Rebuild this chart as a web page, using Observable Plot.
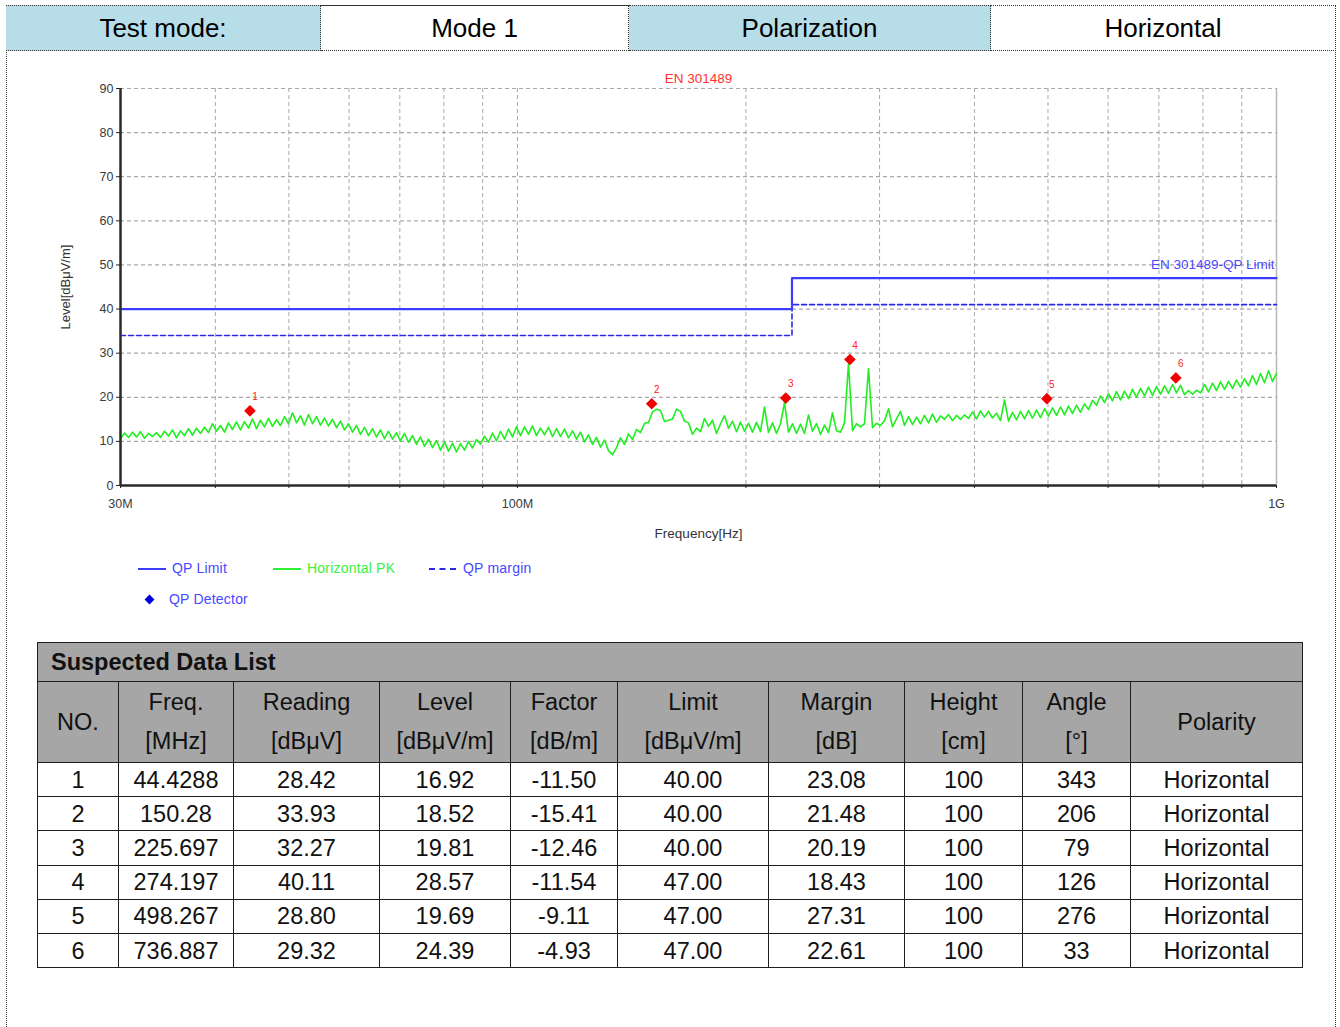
<!DOCTYPE html>
<html>
<head>
<meta charset="utf-8">
<script src="https://cdn.jsdelivr.net/npm/d3@7"></script>
<script src="https://cdn.jsdelivr.net/npm/@observablehq/plot@0.6"></script>
<style>
  html, body { margin: 0; padding: 0; background: #fff; }
  body { font-family: "Liberation Sans", Arial, sans-serif; }
  #page { position: relative; width: 1340px; height: 1027px; overflow: hidden; }
  #frame { position: absolute; left: 6px; top: 5px; width: 1330px; height: 1060px; border: 1px dotted #333; border-bottom: none; box-sizing: border-box; }
  #hdr { position: absolute; left: 6px; top: 5px; height: 46px; display: flex; }
  #hdr div { height: 46px; box-sizing: border-box; border-top: 1px dotted #333; border-bottom: 1px dotted #333; border-right: 1px dotted #333;
             font-size: 26px; line-height: 44px; text-align: center; color: #000; }
  #hdr div.blue { background: #b7dde8; }
  #chart { position: absolute; left: 0; top: 50px; }
  .leg { position: absolute; font-size: 14px; line-height: 16px; letter-spacing: 0.2px; }
  #tbl { position: absolute; left: 37px; top: 642px; border-collapse: collapse; font-size: 23.5px; color: #111; }
  #tbl td { border: 1.5px solid #1e1e1e; text-align: center; padding: 0; }
  #tbl tr.title td { background: #a6a6a6; text-align: left; font-weight: bold; padding-left: 13px; height: 38px; color: #111; }
  #tbl tr.head td { background: #a6a6a6; height: 80px; line-height: 39px; }
  #tbl tr.row td { height: 33.2px; line-height: 30px; }
</style>
</head>
<body>
<div id="page">
  <div id="frame"></div>
  <div id="hdr"></div>
  <div id="chart"></div>
  <div id="legend"></div>
  <table id="tbl"></table>
</div>
<script>
// ---------- header ----------
const headerTexts = ["Test mode:", "Mode 1", "Polarization", "Horizontal"];
const headerBlue = [true, false, true, false];

// ---------- axis ticks ----------
const xGridTicks = [40, 50, 60, 70, 80, 90, 100, 200, 300, 400, 500, 600, 700, 800, 900];
const xAllTicks = [30, 40, 50, 60, 70, 80, 90, 100, 200, 300, 400, 500, 600, 700, 800, 900, 1000];
const xLabelTicks = [30, 100, 1000];
const xTickLabels = ["30M", "100M", "1G"];
const yTicks = [0, 10, 20, 30, 40, 50, 60, 70, 80, 90];

// ---------- limit lines (MHz, dBuV/m) ----------
const limitFreq = [30, 230, 230, 1000];
const limitLevel = [40, 40, 47, 47];
const marginLevel = [34, 34, 41, 41];

// ---------- Horizontal PK sweep 30 MHz .. 1 GHz (dBuV/m) ----------
const traceStartMHz = 30, traceStopMHz = 1000;
const traceLevels = [
  10.6, 11.9, 10.9, 12.1, 11.0, 12.2, 10.7, 11.8, 11.1, 12.0,
  10.9, 12.3, 11.2, 12.6, 10.8, 12.4, 11.3, 12.9, 11.4, 13.0,
  11.8, 13.2, 12.0, 14.0, 12.3, 13.6, 12.1, 14.2, 12.7, 14.4,
  12.6, 14.5, 13.0, 15.1, 12.9, 14.8, 13.3, 15.2, 13.4, 14.9,
  13.6, 15.6, 14.0, 16.5, 14.2, 15.8, 13.7, 16.1, 14.0, 15.6,
  13.7, 15.3, 13.5, 15.0, 13.1, 14.6, 12.6, 14.0, 12.1, 13.6,
  11.6, 13.2, 11.3, 12.9, 11.0, 12.6, 10.6, 12.3, 10.5, 12.0,
  10.1, 11.8, 9.8, 11.3, 9.3, 11.0, 8.9, 10.5, 8.6, 10.2,
  8.0, 9.9, 7.8, 9.6, 7.6, 9.5, 8.0, 10.0, 8.5, 10.4,
  9.4, 11.2, 9.8, 11.9, 10.1, 12.3, 10.5, 12.8, 11.0, 13.3,
  11.3, 13.3, 11.6, 13.5, 11.3, 13.0, 11.5, 13.2, 11.1, 12.9,
  11.1, 12.8, 10.8, 12.4, 10.5, 12.1, 9.9, 11.5, 9.3, 10.9,
  8.7, 10.3, 7.9, 7.0, 8.6, 10.8, 9.3, 11.7, 10.4, 12.7,
  12.0, 14.1, 14.3, 16.7, 17.3, 17.0, 14.5, 14.8, 15.1, 17.3,
  16.8, 14.6, 14.2, 11.6, 13.0, 12.2, 15.2, 13.4, 14.8, 11.8,
  14.0, 15.8, 13.0, 14.6, 12.2, 14.4, 12.3, 14.1, 12.1, 14.3,
  12.2, 17.8, 12.0, 14.2, 11.8, 14.0, 18.8, 12.1, 14.0, 11.8,
  13.9, 11.8, 16.0, 12.3, 14.0, 11.6, 13.7, 12.0, 16.5, 12.4,
  12.1, 14.2, 27.6, 12.4, 14.0, 13.3, 14.0, 26.5, 13.1, 14.1,
  13.6, 14.7, 17.4, 13.3, 15.1, 16.8, 13.6, 15.6, 13.8, 15.5,
  14.0, 15.9, 14.2, 16.2, 14.3, 15.8, 15.0, 16.1, 14.7, 15.9,
  15.0, 16.0, 15.2, 16.7, 15.1, 16.9, 15.5, 16.8, 15.3, 16.4,
  14.7, 19.4, 14.6, 16.6, 14.9, 16.8, 15.1, 17.0, 15.3, 17.1,
  15.4, 17.4, 15.7, 17.6, 15.9, 17.8, 16.0, 18.0, 16.3, 18.2,
  16.6, 18.5, 17.2, 19.3, 18.2, 20.3, 18.8, 20.8, 19.2, 21.3,
  19.4, 21.4, 19.7, 21.8, 20.0, 22.0, 20.3, 22.3, 20.4, 22.4,
  20.7, 22.6, 20.9, 22.9, 21.0, 22.7, 20.6, 21.5, 20.7, 21.6,
  21.0, 22.9, 21.2, 23.2, 21.5, 23.5, 21.8, 23.6, 22.0, 23.9,
  22.3, 24.2, 22.6, 24.9, 22.9, 25.4, 23.3, 26.0, 23.6, 25.4
];

// ---------- Suspected data list ----------
const tblNo = [1, 2, 3, 4, 5, 6];
const tblFreq = [44.4288, 150.28, 225.697, 274.197, 498.267, 736.887];
const tblReading = [28.42, 33.93, 32.27, 40.11, 28.80, 29.32];
const tblLevel = [16.92, 18.52, 19.81, 28.57, 19.69, 24.39];
const tblFactor = [-11.50, -15.41, -12.46, -11.54, -9.11, -4.93];
const tblLimit = [40.00, 40.00, 40.00, 47.00, 47.00, 47.00];
const tblMargin = [23.08, 21.48, 20.19, 18.43, 27.31, 22.61];
const tblHeight = [100, 100, 100, 100, 100, 100];
const tblAngle = [343, 206, 79, 126, 276, 33];
const tblPolarity = ["Horizontal", "Horizontal", "Horizontal", "Horizontal", "Horizontal", "Horizontal"];
const tblHeadTop = ["NO.", "Freq.", "Reading", "Level", "Factor", "Limit", "Margin", "Height", "Angle", "Polarity"];
const tblHeadBottom = ["", "[MHz]", "[dBμV]", "[dBμV/m]", "[dB/m]", "[dBμV/m]", "[dB]", "[cm]", "[°]", ""];
const tblColWidths = [81, 115, 146, 131, 107, 151, 136, 118, 108, 172];

// ---------- header row ----------
const hdrWidths = [315, 308, 362, 345];
const hdr = document.getElementById("hdr");
headerTexts.forEach((t, i) => {
  const d = document.createElement("div");
  d.textContent = t;
  d.style.width = hdrWidths[i] + "px";
  if (headerBlue[i]) d.className = "blue";
  hdr.appendChild(d);
});

// ---------- chart ----------
const limitData = limitFreq.map((f, i) => ({f, v: limitLevel[i]}));
const marginData = limitFreq.map((f, i) => ({f, v: marginLevel[i]}));
const trace = traceLevels.map((v, i) => ({
  f: traceStartMHz * Math.pow(traceStopMHz / traceStartMHz, i / (traceLevels.length - 1)), v
}));
const markers = tblNo.map((n, i) => ({no: String(n), f: tblFreq[i], v: tblLevel[i]}));

const diamondSym = {
  draw(ctx, size) {
    const h = Math.sqrt(size / Math.PI);
    ctx.moveTo(0, -h); ctx.lineTo(h, 0); ctx.lineTo(0, h); ctx.lineTo(-h, 0); ctx.closePath();
  }
};

const labelMap = new Map(xLabelTicks.map((t, i) => [t, xTickLabels[i]]));
const gridColor = "#a8a8a8";

const chart = Plot.plot({
  width: 1340,
  height: 500,
  marginLeft: 120,
  marginRight: 64,
  marginTop: 38,
  marginBottom: 65,
  style: {fontFamily: "'Liberation Sans', Arial, sans-serif", fontSize: "13px", color: "#3a3a3a", background: "transparent", overflow: "visible"},
  x: {type: "log", domain: [30, 1000]},
  y: {domain: [0, 90]},
  marks: [
    Plot.ruleX(xGridTicks, {stroke: gridColor, strokeDasharray: "4,3", strokeWidth: 1}),
    Plot.ruleY(yTicks.filter(d => d > 0), {stroke: gridColor, strokeDasharray: "4,3", strokeWidth: 1.2}),
    Plot.ruleX([1000], {stroke: "#b8b8b8", strokeWidth: 1.5}),
    Plot.line(trace, {x: "f", y: "v", stroke: "#1fef1f", strokeWidth: 1.6}),
    Plot.line(marginData, {x: "f", y: "v", stroke: "#2a2ae6", strokeWidth: 1.6, strokeDasharray: "5,3"}),
    Plot.line(limitData, {x: "f", y: "v", stroke: "#3c3cff", strokeWidth: 2.2}),
    Plot.dot(markers, {x: "f", y: "v", symbol: diamondSym, r: 5.8, fill: "#f00000", stroke: "none"}),
    Plot.text(markers, {x: "f", y: "v", text: "no", dx: 5, dy: -14, fill: "#ff2020", fontSize: 10}),
    Plot.ruleX([30], {stroke: "#2a2a2a", strokeWidth: 2.5}),
    Plot.ruleY([0], {stroke: "#2a2a2a", strokeWidth: 2.5}),
    Plot.axisY({ticks: yTicks, tickSize: 4, tickPadding: 3, stroke: "#222", fontSize: 12.5, label: null}),
    Plot.axisX({ticks: xAllTicks, tickSize: 3, tickPadding: 11, stroke: "#222", fontSize: 12.5, label: null,
                tickFormat: d => labelMap.get(d) ?? ""}),
    Plot.text(["EN 301489"], {frameAnchor: "top", dy: -15, fill: "#ff3030", fontSize: 13.5}),
    Plot.text(["EN 301489-QP Limit"], {x: 1000, y: 50.1, textAnchor: "end", dx: -2, fill: "#4a4aff", fontSize: 13.5}),
    Plot.text(["Level[dBμV/m]"], {frameAnchor: "left", textAnchor: "middle", dx: -55, rotate: -90, fill: "#333", fontSize: 13}),
    Plot.text(["Frequency[Hz]"], {frameAnchor: "bottom", dy: 52, fill: "#333", fontSize: 13.5})
  ]
});
document.getElementById("chart").appendChild(chart);

// ---------- legend ----------
const legendItems = [
  {label: "QP Limit", color: "#4848ff", swatch: "line", swColor: "#3c3cff", left: 138, top: 569, textLeft: 172},
  {label: "Horizontal PK", color: "#3cf03c", swatch: "line", swColor: "#33ee33", left: 273, top: 569, textLeft: 307},
  {label: "QP margin", color: "#4848ff", swatch: "dash", swColor: "#2a2ae6", left: 429, top: 569, textLeft: 463},
  {label: "QP Detector", color: "#4848ff", swatch: "diamond", swColor: "#0000e0", left: 146, top: 600, textLeft: 169}
];
const legend = document.getElementById("legend");
legendItems.forEach(it => {
  const sw = document.createElement("div");
  sw.style.position = "absolute";
  if (it.swatch === "line") {
    Object.assign(sw.style, {left: it.left + "px", top: (it.top - 1) + "px", width: "28px", height: "2px", background: it.swColor});
  } else if (it.swatch === "dash") {
    Object.assign(sw.style, {left: it.left + "px", top: (it.top - 1) + "px", width: "27px", height: "0", borderTop: "2px dashed " + it.swColor});
  } else {
    Object.assign(sw.style, {left: it.left + "px", top: (it.top - 4) + "px", width: "7px", height: "7px", background: it.swColor, transform: "rotate(45deg)"});
  }
  legend.appendChild(sw);
  const t = document.createElement("div");
  t.className = "leg";
  t.textContent = it.label;
  Object.assign(t.style, {left: it.textLeft + "px", top: (it.top - 9) + "px", color: it.color});
  legend.appendChild(t);
});

// ---------- table ----------
const tbl = document.getElementById("tbl");
const cg = document.createElement("colgroup");
tblColWidths.forEach(w => { const c = document.createElement("col"); c.style.width = w + "px"; cg.appendChild(c); });
tbl.appendChild(cg);
tbl.style.width = tblColWidths.reduce((a, b) => a + b, 0) + "px";
tbl.style.tableLayout = "fixed";

const trT = document.createElement("tr"); trT.className = "title";
const tdT = document.createElement("td"); tdT.colSpan = tblColWidths.length; tdT.textContent = "Suspected Data List";
trT.appendChild(tdT); tbl.appendChild(trT);

const trH = document.createElement("tr"); trH.className = "head";
tblHeadTop.forEach((h, i) => {
  const td = document.createElement("td");
  if (tblHeadBottom[i]) { td.append(h, document.createElement("br"), tblHeadBottom[i]); }
  else td.textContent = h;
  trH.appendChild(td);
});
tbl.appendChild(trH);

tblNo.forEach((n, i) => {
  const tr = document.createElement("tr"); tr.className = "row";
  const cells = [String(n), String(tblFreq[i]), tblReading[i].toFixed(2), tblLevel[i].toFixed(2), tblFactor[i].toFixed(2),
                 tblLimit[i].toFixed(2), tblMargin[i].toFixed(2), String(tblHeight[i]), String(tblAngle[i]), tblPolarity[i]];
  cells.forEach(c => { const td = document.createElement("td"); td.textContent = c; tr.appendChild(td); });
  tbl.appendChild(tr);
});
</script>
</body>
</html>
